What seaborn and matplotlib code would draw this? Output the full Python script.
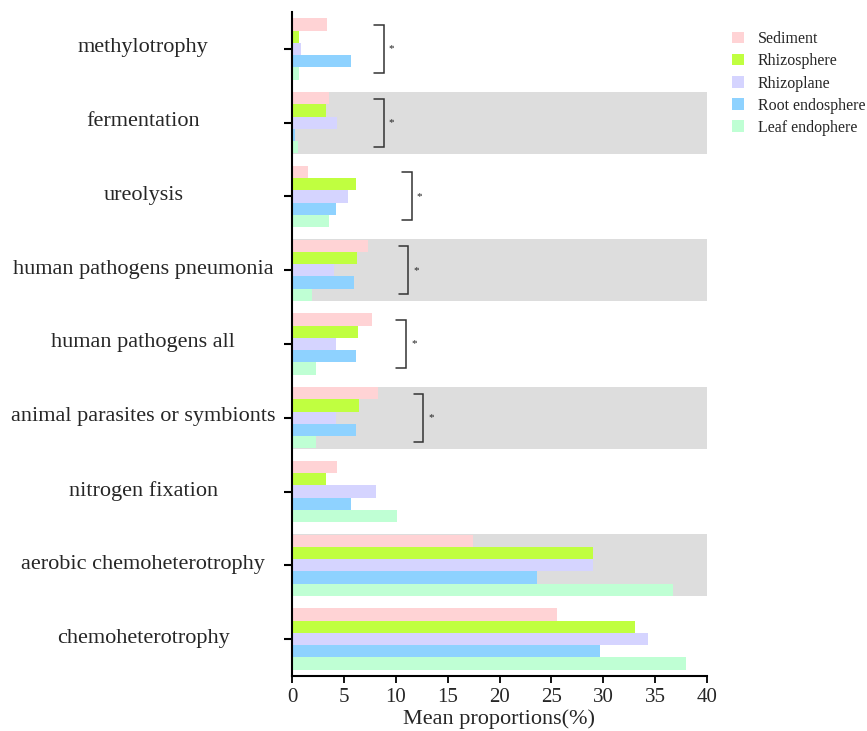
import numpy as np
import pandas as pd
import matplotlib
matplotlib.use("Agg")
import matplotlib.pyplot as plt
import matplotlib.transforms as mtransforms
import seaborn as sns

functions = ["methylotrophy", "fermentation", "ureolysis", "human pathogens pneumonia",
             "human pathogens all", "animal parasites or symbionts", "nitrogen fixation",
             "aerobic chemoheterotrophy", "chemoheterotrophy"]
groups = ["Sediment", "Rhizosphere", "Rhizoplane", "Root endosphere", "Leaf endophere"]

sediment = [3.4, 3.6, 1.5, 7.3, 7.7, 8.3, 4.3, 17.4, 25.5]
rhizosphere = [0.65, 3.25, 6.2, 6.3, 6.4, 6.5, 3.25, 29.0, 33.1]
rhizoplane = [0.9, 4.3, 5.4, 4.0, 4.2, 4.2, 8.1, 29.0, 34.3]
root_endo = [5.7, 0.3, 4.2, 6.0, 6.2, 6.2, 5.7, 23.6, 29.7]
leaf_endo = [0.7, 0.55, 3.6, 1.9, 2.3, 2.3, 10.1, 36.7, 38.0]

colors = ["#FFD3D5", "#C0FF40", "#D5D4FF", "#8ED2FF", "#BFFFD4"]

shaded = ["fermentation", "human pathogens pneumonia", "animal parasites or symbionts",
          "aerobic chemoheterotrophy"]

# significance brackets: (category, left x of bracket, star x)
sig_cats = ["methylotrophy", "fermentation", "ureolysis", "human pathogens pneumonia",
            "human pathogens all", "animal parasites or symbionts"]
sig_left = [7.95, 7.95, 10.65, 10.3, 10.05, 11.75]
sig_star = [9.6, 9.6, 12.3, 12.0, 11.75, 13.45]

series = [sediment, rhizosphere, rhizoplane, root_endo, leaf_endo]
rows = []
for g, vals in zip(groups, series):
    for f, v in zip(functions, vals):
        rows.append({"function": f, "group": g, "value": v})
df = pd.DataFrame(rows)

sns.set_style("ticks")
plt.rcParams["font.family"] = ["Liberation Serif", "DejaVu Serif"]

fig = plt.figure(figsize=(8.67, 7.31), dpi=100)
ax = fig.add_axes([292 / 867, 1 - 676 / 731, 415 / 867, 664 / 731])

sns.barplot(data=df, y="function", x="value", hue="group", order=functions,
            hue_order=groups, palette=colors, orient="h", width=0.83,
            saturation=1, ax=ax, errorbar=None, zorder=2, linewidth=0)

for f in shaded:
    i = functions.index(f)
    ax.fill_betweenx([i - 0.418, i + 0.418], 0, 40, color="#DDDDDD", zorder=0, linewidth=0)

for f, xl, xs in zip(sig_cats, sig_left, sig_star):
    i = functions.index(f)
    h = 0.325
    xr = xl + 0.92
    ax.plot([xl, xr, xr, xl], [i - h, i - h, i + h, i + h], color="#333333", lw=1.1,
            zorder=3, solid_joinstyle="miter")
    ax.text(xs, i, "*", ha="center", va="center", fontsize=8, color="#222222")

ax.set_xlim(0, 40)
ax.set_ylim(8.5, -0.5)
ax.set_xticks(np.arange(0, 41, 5))
ax.set_xlabel("Mean proportions(%)", fontsize=16, labelpad=1)
ax.set_ylabel("")
for s in ["top", "right"]:
    ax.spines[s].set_visible(False)
for s in ["left", "bottom"]:
    ax.spines[s].set_linewidth(1.5)
    ax.spines[s].set_color("black")
ax.tick_params(axis="x", length=5, width=1.3, labelsize=15, pad=4, color="black")
ax.tick_params(axis="y", length=6, width=1.5, labelsize=16, pad=101, color="black")
offset = mtransforms.ScaledTranslation(0, 1 / 100, fig.dpi_scale_trans)
for lab in ax.get_yticklabels():
    lab.set_horizontalalignment("center")
    lab.set_verticalalignment("center")
    lab.set_transform(lab.get_transform() + offset)

handles, labels = ax.get_legend_handles_labels()
ax.get_legend().remove()
fig.legend(handles, labels, loc="upper left", bbox_to_anchor=(726 / 867, 1 - 25 / 731),
           frameon=False, fontsize=11.5, handlelength=0.7, handleheight=0.7,
           handletextpad=0.9, labelspacing=0.38, borderaxespad=0)

fig.savefig("out.png", dpi=100)
